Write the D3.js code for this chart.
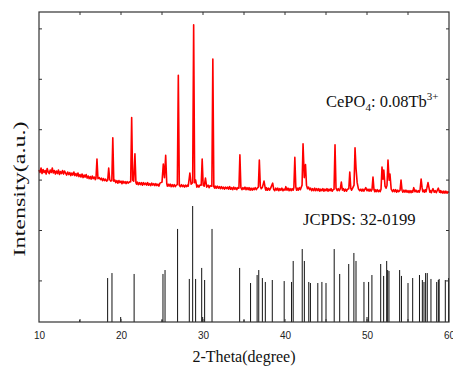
<!DOCTYPE html>
<html>
<head>
<meta charset="utf-8">
<script src="https://cdn.jsdelivr.net/npm/d3@7"></script>
<style>
  html, body { margin: 0; padding: 0; background: #fff; }
  svg { display: block; }
</style>
</head>
<body>
<div id="app"></div>
<script>
const width = 453;
const height = 367;
const margin = { top: 12, right: 4, bottom: 45, left: 39 };

// measured pattern, [2theta, intensity a.u.]
const measured = [
  [10.00, 2.20], [10.12, 2.15], [10.25, 2.24], [10.37, 2.13], [10.50, 2.21], [10.62, 2.15],
  [10.75, 2.19], [10.87, 2.12], [11.00, 2.23], [11.12, 2.16], [11.25, 2.13], [11.37, 2.20],
  [11.50, 2.15], [11.62, 2.24], [11.75, 2.14], [11.87, 2.19], [12.00, 2.12], [12.12, 2.18],
  [12.25, 2.13], [12.37, 2.20], [12.50, 2.11], [12.62, 2.17], [12.75, 2.13], [12.87, 2.19],
  [13.00, 2.12], [13.12, 2.18], [13.25, 2.14], [13.37, 2.10], [13.50, 2.16], [13.62, 2.11],
  [13.75, 2.15], [13.87, 2.09], [14.00, 2.14], [14.12, 2.10], [14.25, 2.16], [14.37, 2.09],
  [14.50, 2.13], [14.62, 2.08], [14.75, 2.14], [14.87, 2.07], [15.00, 2.11], [15.12, 2.06],
  [15.25, 2.12], [15.37, 2.05], [15.50, 2.10], [15.62, 2.06], [15.75, 2.11], [15.87, 2.04],
  [16.00, 2.08], [16.12, 2.03], [16.25, 2.07], [16.37, 2.02], [16.50, 2.08], [16.62, 2.03],
  [16.75, 2.06], [16.87, 2.01], [16.95, 2.04], [17.07, 2.42],
  [17.19, 2.03], [17.35, 2.05], [17.50, 2.01], [17.62, 2.04], [17.75, 1.99], [17.87, 2.03],
  [18.00, 1.99], [18.12, 2.02], [18.25, 1.98],
  [18.38, 2.00], [18.50, 2.24], [18.62, 2.01], [18.75, 1.98], [18.88, 1.99], [19.00, 2.84],
  [19.12, 1.98], [19.25, 2.00], [19.37, 1.95], [19.50, 1.99], [19.62, 1.94], [19.75, 1.99],
  [19.87, 1.95], [20.00, 1.98], [20.12, 1.93], [20.25, 1.98], [20.37, 1.94], [20.50, 1.97],
  [20.62, 1.93], [20.75, 1.97], [20.87, 1.94], [21.00, 1.96], [21.18, 1.97], [21.30, 3.24], [21.42, 2.00],
  [21.55, 1.98], [21.70, 2.52], [21.82, 1.95], [21.90, 1.92], [22.00, 1.96], [22.12, 1.91],
  [22.25, 1.95], [22.37, 1.91], [22.50, 1.95], [22.62, 1.90], [22.75, 1.95], [22.87, 1.91],
  [23.00, 1.94], [23.12, 1.90], [23.25, 1.95], [23.37, 1.90], [23.50, 1.93], [23.62, 1.89],
  [23.75, 1.94], [23.87, 1.90], [24.00, 1.93], [24.12, 1.89], [24.25, 1.93], [24.37, 1.89],
  [24.50, 1.92], [24.62, 1.88], [24.75, 1.94], [25.00, 1.96], [25.16, 2.32], [25.30, 2.05],
  [25.45, 2.49], [25.58, 1.93], [25.65, 1.88], [25.75, 1.92], [25.87, 1.88], [26.00, 1.92],
  [26.12, 1.87], [26.25, 1.91], [26.37, 1.87], [26.50, 1.91], [26.62, 1.87],
  [26.75, 1.90], [26.87, 1.91], [26.99, 4.08], [27.11, 1.90], [27.25, 1.87], [27.37, 1.91],
  [27.50, 1.87], [27.62, 1.90], [27.75, 1.86], [27.87, 1.90], [28.00, 1.87], [28.10, 1.90],
  [28.20, 1.88], [28.40, 2.14], [28.55, 1.92], [28.74, 1.95],
  [28.86, 5.08], [28.98, 1.95], [29.10, 2.00], [29.25, 1.86], [29.37, 1.90], [29.50, 1.86],
  [29.62, 1.90], [29.78, 1.90],
  [29.90, 2.42], [30.02, 1.90], [30.15, 1.88], [30.30, 2.04], [30.45, 1.86], [30.62, 1.90],
  [30.75, 1.85], [30.87, 1.89], [31.08, 1.88], [31.20, 4.40], [31.32, 1.87], [31.42, 1.84],
  [31.50, 1.88], [31.62, 1.84], [31.75, 1.88], [31.87, 1.84], [32.00, 1.87], [32.12, 1.83],
  [32.25, 1.87], [32.37, 1.83], [32.50, 1.86], [32.62, 1.82], [32.75, 1.86], [32.87, 1.83],
  [33.00, 1.86], [33.12, 1.82], [33.25, 1.87], [33.37, 1.82], [33.50, 1.85], [33.62, 1.81],
  [33.75, 1.86], [33.87, 1.82], [34.00, 1.85], [34.12, 1.81], [34.25, 1.85], [34.38, 1.84],
  [34.50, 2.50], [34.62, 1.85], [34.75, 1.81], [34.87, 1.85], [35.00, 1.82], [35.12, 1.86],
  [35.25, 1.81], [35.37, 1.85], [35.50, 1.81], [35.62, 1.85], [35.75, 1.80], [35.87, 1.84],
  [36.00, 1.80], [36.12, 1.84], [36.25, 1.81], [36.37, 1.85], [36.50, 1.81], [36.62, 1.84],
  [36.75, 1.86], [36.87, 2.40], [36.99, 1.88], [37.10, 1.83], [37.25, 1.86], [37.44, 1.98],
  [37.60, 1.83], [37.67, 1.80], [37.75, 1.85], [37.87, 1.80], [38.00, 1.84], [38.12, 1.80],
  [38.25, 1.84], [38.50, 1.94], [38.62, 1.82], [38.75, 1.79], [38.87, 1.84], [39.00, 1.80],
  [39.12, 1.84], [39.25, 1.79], [39.37, 1.83], [39.50, 1.80], [39.62, 1.84], [39.75, 1.79],
  [39.87, 1.82], [40.00, 1.80], [40.10, 1.87], [40.25, 1.80], [40.37, 1.84], [40.50, 1.79],
  [40.62, 1.83], [40.75, 1.79], [40.87, 1.83], [41.00, 1.80],
  [41.08, 1.85], [41.20, 2.45], [41.32, 1.86], [41.42, 1.80], [41.50, 1.84], [41.62, 1.80],
  [41.75, 1.85], [41.87, 1.81], [42.08, 1.90],
  [42.20, 2.72], [42.35, 2.05], [42.50, 2.31], [42.62, 1.90], [42.75, 1.83], [42.87, 1.86],
  [43.00, 1.81], [43.12, 1.84], [43.25, 1.79], [43.37, 1.83], [43.50, 1.79], [43.62, 1.84],
  [43.75, 1.79], [43.87, 1.83], [44.00, 1.79], [44.12, 1.83], [44.25, 1.78], [44.37, 1.82],
  [44.50, 1.79], [44.62, 1.83], [44.75, 1.78], [44.87, 1.82], [45.00, 1.79], [45.12, 1.83],
  [45.25, 1.78], [45.37, 1.82], [45.50, 1.79], [45.62, 1.83], [45.75, 1.78], [45.87, 1.81],
  [45.98, 1.82], [46.10, 2.70], [46.22, 1.84], [46.37, 1.79], [46.50, 1.83], [46.62, 1.79],
  [46.75, 1.83], [46.87, 1.96], [47.00, 1.80], [47.12, 1.83], [47.25, 1.78], [47.37, 1.82],
  [47.50, 1.78], [47.62, 1.82], [47.78, 1.83], [47.90, 2.16], [48.02, 1.84], [48.12, 1.80],
  [48.25, 1.84], [48.42, 1.90], [48.54, 2.64], [48.66, 2.24], [48.80, 1.95], [48.95, 1.83],
  [49.12, 1.79], [49.25, 1.82], [49.37, 1.78], [49.50, 1.82], [49.62, 1.78], [49.85, 1.85],
  [50.00, 1.79], [50.12, 1.82], [50.25, 1.78], [50.37, 1.82], [50.50, 1.78], [50.61, 1.81],
  [50.73, 2.06], [50.85, 1.81], [50.95, 1.77], [51.00, 1.81], [51.12, 1.77], [51.25, 1.81],
  [51.37, 1.77], [51.50, 1.80], [51.60, 1.77], [51.71, 1.82],
  [51.83, 2.26], [51.95, 2.02], [52.05, 2.20], [52.20, 1.88], [52.32, 1.84], [52.44, 1.90],
  [52.56, 2.40], [52.70, 2.00], [52.80, 2.12], [52.95, 1.82], [53.12, 1.77], [53.25, 1.81],
  [53.37, 1.77], [53.50, 1.81], [53.62, 1.76], [53.75, 1.80], [53.87, 1.77],
  [54.03, 1.80], [54.15, 2.00], [54.27, 1.80], [54.37, 1.76], [54.50, 1.80], [54.62, 1.76],
  [54.75, 1.80], [54.87, 1.76], [55.00, 1.79], [55.12, 1.75], [55.25, 1.79], [55.37, 1.75],
  [55.50, 1.79], [55.58, 1.76], [55.70, 1.85], [55.85, 1.77], [55.97, 1.80], [56.10, 1.76],
  [56.25, 1.79], [56.37, 1.76], [56.48, 1.82], [56.60, 2.02], [56.72, 1.85], [56.80, 1.77],
  [56.90, 1.80], [57.00, 1.76], [57.10, 1.81], [57.20, 1.77], [57.30, 1.84], [57.44, 1.95],
  [57.58, 1.83], [57.66, 1.76], [57.75, 1.79], [57.85, 1.75], [57.93, 1.79], [58.05, 1.83],
  [58.20, 1.76], [58.32, 1.79], [58.45, 1.75], [58.58, 1.80], [58.70, 1.84], [58.85, 1.76],
  [58.95, 1.79], [59.00, 1.75], [59.12, 1.78], [59.25, 1.74], [59.37, 1.78], [59.50, 1.74],
  [59.62, 1.78], [59.75, 1.74], [59.87, 1.77], [60.00, 1.75]
];

// JCPDS 32-0199 reference lines: positions and relative intensities
const refPositions = [
  14.96, 18.37, 18.90, 19.96, 21.60, 25.00, 25.12, 25.37, 26.90, 28.33, 28.74, 29.10,
  29.84, 29.96, 30.20, 31.10, 34.47, 35.00, 35.80, 36.60, 36.80, 37.24, 37.60, 38.45,
  39.90, 40.80, 41.00, 42.10, 42.36, 42.90, 43.10, 44.00, 44.50, 45.00, 46.00, 46.67,
  47.77, 48.40, 48.66, 49.63, 50.00, 50.20, 50.60, 51.67, 52.03, 52.40, 52.52, 52.68,
  53.98, 54.20, 55.00, 55.57, 56.40, 56.75, 56.95, 57.15, 57.35, 57.80, 58.50, 58.70,
  58.80, 59.55, 59.95
];
const refIntensities = [
  1.7, 37.9, 42.2, 4.3, 41.4, 1.7, 41.4, 44.8, 80.2, 37.1, 100, 37.1,
  46.6, 4.3, 36.2, 80.2, 46.6, 1.7, 33.6, 40.5, 44.8, 37.9, 34.5, 36.2,
  35.3, 34.5, 52.6, 62.9, 52.6, 34.5, 33.6, 33.6, 34.5, 33.6, 62.9, 41.4,
  50, 59.5, 52.6, 34.5, 4.3, 34.5, 40.5, 50, 39.7, 52.6, 44.8, 44,
  44.8, 39.7, 33.6, 37.9, 40.5, 36.2, 34.5, 42.2, 42.2, 37.1, 34.5, 36.2,
  37.1, 36.2, 37.9
];

const xTicks = [10, 20, 30, 40, 50, 60];
const xMinorTicks = [15, 20, 25, 30, 35, 40, 45, 50, 55];
const yTicks = [0, 1, 2, 3, 4, 5];

const serif = "'Liberation Serif', 'Times New Roman', serif";
const sans = "'Liberation Sans', Arial, sans-serif";

const x = d3.scaleLinear().domain([10, 60]).range([margin.left, width - margin.right]);
const y = d3.scaleLinear().domain([-0.815, 5.335]).range([height - margin.bottom, margin.top]);
const yRef = d3.scaleLinear().domain([0, 100]).range([height - margin.bottom, 206]);

const svg = d3
  .select("#app")
  .append("svg")
  .attr("width", width)
  .attr("height", height);

// reference sticks
svg
  .append("g")
  .selectAll("line")
  .data(refPositions)
  .enter()
  .append("line")
  .attr("x1", (d) => x(d))
  .attr("x2", (d) => x(d))
  .attr("y1", yRef(0))
  .attr("y2", (d, i) => yRef(refIntensities[i]))
  .attr("stroke", "#111")
  .attr("stroke-width", 1);

// measured pattern
svg
  .append("path")
  .datum(measured)
  .attr("fill", "none")
  .attr("stroke", "#ff0000")
  .attr("stroke-width", 1.6)
  .attr("stroke-linejoin", "round")
  .attr("d", d3.line().x((d) => x(d[0])).y((d) => y(d[1])));

// frame
const [x0, x1] = x.range();
const [y0, y1] = y.range();
const frameColor = "#333";
svg
  .append("rect")
  .attr("x", x0)
  .attr("y", y1)
  .attr("width", x1 - x0)
  .attr("height", y0 - y1)
  .attr("fill", "none")
  .attr("stroke", frameColor)
  .attr("stroke-width", 1.2);

const tick = 3;
svg
  .append("g")
  .attr("transform", `translate(0, ${y0})`)
  .call(d3.axisBottom(x).tickValues(xTicks).tickSize(0).tickPadding(10).tickFormat(d3.format("d")))
  .call((g) => g.select(".domain").remove())
  .call((g) => g.selectAll("text").style("font-family", sans).style("font-size", "10px").attr("fill", "#222"));

const tickGroup = svg.append("g").attr("stroke", frameColor).attr("stroke-width", 1);
[y0, y1].forEach((yy, k) => {
  tickGroup
    .selectAll(null)
    .data(xMinorTicks)
    .enter()
    .append("line")
    .attr("x1", (d) => x(d))
    .attr("x2", (d) => x(d))
    .attr("y1", yy)
    .attr("y2", k === 0 ? yy - tick : yy + tick);
});
[x0, x1].forEach((xx, k) => {
  tickGroup
    .selectAll(null)
    .data(yTicks)
    .enter()
    .append("line")
    .attr("y1", (d) => y(d))
    .attr("y2", (d) => y(d))
    .attr("x1", xx)
    .attr("x2", k === 0 ? xx + tick : xx - tick);
});

// axis titles
svg
  .append("text")
  .attr("x", 244)
  .attr("y", 362)
  .attr("text-anchor", "middle")
  .style("font-family", serif)
  .style("font-size", "16px")
  .attr("fill", "#111")
  .text("2-Theta(degree)");

svg
  .append("text")
  .attr("transform", `translate(25, 189) rotate(-90)`)
  .attr("text-anchor", "middle")
  .attr("textLength", 135)
  .attr("lengthAdjust", "spacingAndGlyphs")
  .style("font-family", serif)
  .style("font-size", "16px")
  .attr("fill", "#111")
  .text("Intensity(a.u.)");

// labels
const label = svg
  .append("text")
  .attr("x", 326)
  .attr("y", 106.5)
  .style("font-family", serif)
  .style("font-size", "16.5px")
  .attr("fill", "#111");
label.append("tspan").text("CePO");
label.append("tspan").attr("dy", 4).style("font-size", "11px").text("4");
label.append("tspan").attr("dy", -4).text(": 0.08Tb");
label.append("tspan").attr("dy", -7).style("font-size", "11px").text("3+");

svg
  .append("text")
  .attr("x", 303)
  .attr("y", 224.5)
  .style("font-family", serif)
  .style("font-size", "16.7px")
  .attr("fill", "#111")
  .text("JCPDS: 32-0199");
</script>
</body>
</html>
